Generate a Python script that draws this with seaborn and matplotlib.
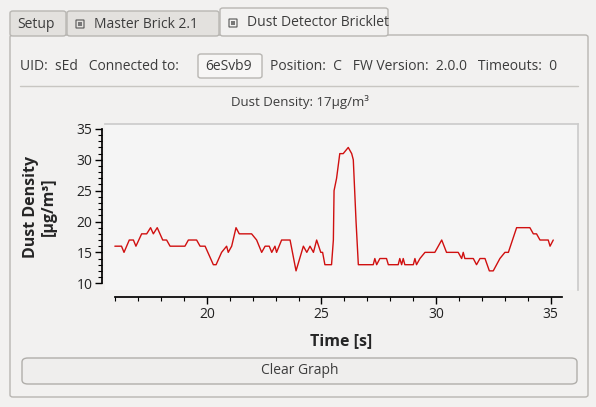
import matplotlib
matplotlib.use("Agg")
import matplotlib.pyplot as plt
import seaborn as sns
import numpy as np
import pandas as pd
from matplotlib.patches import FancyBboxPatch

sns.set_theme(style="white")
plt.rcParams['font.family'] = ['Open Sans', 'DejaVu Sans']

time_s = [15.98, 16.27, 16.38, 16.61, 16.79, 16.90, 17.15, 17.37, 17.54, 17.66, 17.83, 18.07, 18.24, 18.39,
          19.04, 19.19, 19.55, 19.70, 19.92, 20.28, 20.40, 20.64, 20.86, 20.93, 21.08, 21.27, 21.41, 21.95,
          22.17, 22.39, 22.54, 22.72, 22.83, 22.97, 23.04, 23.26, 23.63, 23.89, 24.21, 24.36, 24.50, 24.65,
          24.79, 24.97, 25.05, 25.15, 25.44, 25.52,
          25.55, 25.66, 25.80, 25.95, 26.17, 26.32, 26.39, 26.51, 26.61, 26.75, 27.26, 27.33, 27.41, 27.55,
          27.84, 27.92, 28.35, 28.42, 28.50, 28.57, 28.64, 29.01, 29.08, 29.15, 29.30, 29.52, 29.95, 30.25,
          30.46, 30.97, 31.12, 31.19, 31.26, 31.63, 31.77, 31.92, 32.14, 32.33, 32.50, 32.79, 33.01, 33.16,
          33.52, 34.10, 34.25, 34.39, 34.54, 34.90, 34.98, 35.12]
density = [16, 16, 15, 17, 17, 16, 18, 18, 19, 18, 19, 17, 17, 16,
           16, 17, 17, 16, 16, 13, 13, 15, 16, 15, 16, 19, 18, 18,
           17, 15, 16, 16, 15, 16, 15, 17, 17, 12, 16, 15, 16, 15,
           17, 15, 15, 13, 13, 17,
           25, 27, 31, 31, 32, 31, 30, 20, 13, 13, 13, 14, 13, 14,
           14, 13, 13, 14, 13, 14, 13, 13, 14, 13, 14, 15, 15, 17,
           15, 15, 14, 15, 14, 14, 13, 14, 14, 12, 12, 14, 15, 15,
           19, 19, 18, 18, 17, 17, 16, 17]
df = pd.DataFrame({"t": time_s, "d": density})

W, H = 596, 407
fig = plt.figure(figsize=(W/100, H/100), dpi=100)
fig.patch.set_facecolor("#f2f1f0")

def px(x, y, w, h):
    return (x/W, 1-(y+h)/H, w/W, h/H)

def rect(x, y, w, h, fc, ec, lw=1, r=0.0):
    l, b, ww, hh = px(x, y, w, h)
    fig.patches.append(FancyBboxPatch((l, b), ww, hh, boxstyle=f"round,pad=0,rounding_size={r}",
                                      transform=fig.transFigure, fc=fc, ec=ec, lw=lw, zorder=-5))

def txt(x, y, s, **kw):
    kw.setdefault("fontsize", 10)
    fig.text(x/W, 1-y/H, s, va="center", color="#3c3c3c", **kw)

def icon(x, y):
    rect(x, y-4, 8, 8, "none", "#555555", lw=0.8)
    rect(x+2, y-2, 4, 4, "#777777", "none", lw=0)

# panel and tabs
rect(10, 35, 578, 362, "#f2f1f0", "#b8b6b2", r=0.005)
rect(10, 11, 56, 25, "#e3e1de", "#b8b6b2", r=0.005)
rect(67, 11, 152, 25, "#e3e1de", "#b8b6b2", r=0.005)
rect(220, 8, 168, 28, "#f2f1f0", "#b8b6b2", r=0.005)
txt(17, 24, "Setup")
icon(76, 24)
txt(94, 24, "Master Brick 2.1")
icon(229, 23)
txt(247, 23, "Dust Detector Bricklet")

txt(20, 66, "UID:  sEd   Connected to:")
rect(198, 54, 64, 24, "#f7f6f5", "#b8b6b2", r=0.005)
txt(205, 66, "6eSvb9")
txt(270, 66, "Position:  C   FW Version:  2.0.0   Timeouts:  0")
fig.lines.append(plt.Line2D([20/W, 578/W], [1-86/H]*2, transform=fig.transFigure, color="#c8c6c2", lw=1))

rect(22, 358, 555, 26, "#efeeed", "#b0aeaa", r=0.01)
fig.text(300/W, 1-371/H, "Clear Graph", ha="center", va="center", fontsize=10, color="#3c3c3c")
fig.text(300/W, 1-102/H, "Dust Density: 17µg/m³", ha="center", va="center", fontsize=9.5, color="#3c3c3c")

# plot
ax = fig.add_axes(px(105, 124, 473, 166))
ax.set_zorder(5)
ax.set_facecolor("#f5f5f5")
sns.lineplot(data=df, x="t", y="d", ax=ax, color="#d01010", lw=1)
ax.set_xlim(15.55, 36.2)
ax.set_ylim(8.9, 35.8)
for s in ["top", "right"]:
    ax.spines[s].set_color("#cccccc")
ax.spines["left"].set_position(("outward", 2))
ax.spines["bottom"].set_position(("outward", 5))
ax.spines["left"].set_bounds(10, 35)
ax.spines["bottom"].set_bounds(16, 35.5)
for s in ["left", "bottom"]:
    ax.spines[s].set_color("black")
ax.set_yticks([10, 15, 20, 25, 30, 35])
ax.set_xticks([20, 25, 30, 35])
ax.set_yticks(np.arange(10, 36, 1), minor=True)
ax.set_xticks(np.arange(16, 36, 1), minor=True)
ax.tick_params(axis="both", which="major", direction="out", length=5, width=1, color="black",
               labelsize=10, labelcolor="#222222", left=True, bottom=True, pad=2)
ax.tick_params(axis="both", which="minor", direction="out", length=3, width=0.8, color="black",
               left=True, bottom=True)
ax.set_xlabel("Time [s]", fontsize=11.5, fontweight="bold", labelpad=8)
ax.set_ylabel("Dust Density\n[µg/m³]", fontsize=11.5, fontweight="bold", labelpad=14)

fig.savefig("out.png", dpi=100, facecolor=fig.get_facecolor())
